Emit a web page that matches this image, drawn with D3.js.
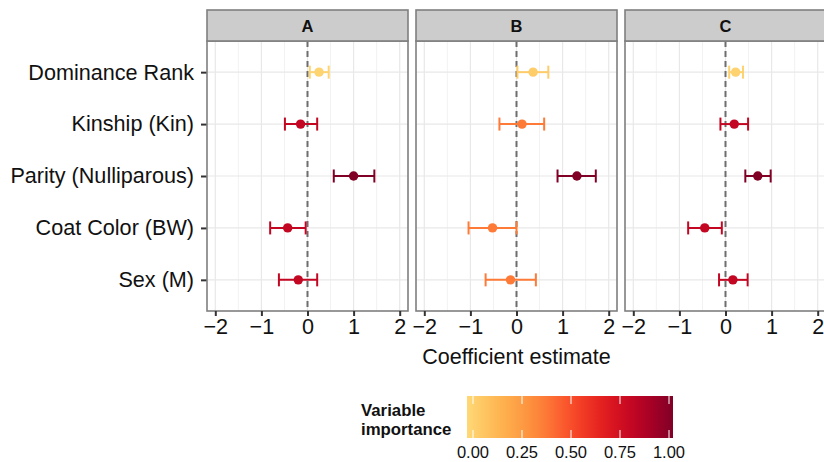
<!DOCTYPE html>
<html>
<head>
<meta charset="utf-8">
<script src="https://d3js.org/d3.v7.min.js"></script>
<style>
  body { margin: 0; background: #fff; }
  text { font-family: "Liberation Sans", Arial, Helvetica, sans-serif; }
</style>
</head>
<body>
<div id="chart"></div>
<script>
// data
var categories = ["Dominance Rank", "Kinship (Kin)", "Parity (Nulliparous)", "Coat Color (BW)", "Sex (M)"];
var panels = ["A", "B", "C"];

var estimateA = [0.25, -0.15, 1.00, -0.43, -0.20];
var lowerA    = [0.05, -0.49, 0.57, -0.81, -0.62];
var upperA    = [0.46,  0.21, 1.45, -0.04,  0.21];
var importanceA = [0.02, 0.80, 1.00, 0.80, 0.80];

var estimateB = [0.36, 0.12, 1.31, -0.52, -0.13];
var lowerB    = [0.02, -0.37, 0.89, -1.04, -0.67];
var upperB    = [0.69, 0.60, 1.72, 0.00, 0.42];
var importanceB = [0.05, 0.38, 1.00, 0.38, 0.38];

var estimateC = [0.22, 0.19, 0.70, -0.45, 0.16];
var lowerC    = [0.08, -0.11, 0.43, -0.81, -0.14];
var upperC    = [0.38, 0.49, 0.98, -0.08, 0.48];
var importanceC = [0.03, 0.80, 1.00, 0.80, 0.80];

var xTicks = [-2, -1, 0, 1, 2];
var legendTicks = [0, 0.25, 0.5, 0.75, 1];

var series = {
  A: {est: estimateA, lo: lowerA, hi: upperA, imp: importanceA},
  B: {est: estimateB, lo: lowerB, hi: upperB, imp: importanceB},
  C: {est: estimateC, lo: lowerC, hi: upperC, imp: importanceC}
};

var svgWidth = 824, svgHeight = 462;
var panelW = 201, panelStep = 209, panelLeft = 207;
var stripTop = 10, panelTop = 41, panelBottom = 311;
var axisFont = 21.6;

var svg = d3.select("#chart").append("svg")
  .attr("width", svgWidth)
  .attr("height", svgHeight);

var color = d3.scaleSequential(d3.interpolateRgbBasis(
  ["#FED976", "#FEB24C", "#FD8D3C", "#FC4E2A", "#E31A1C", "#BD0026", "#800026"]))
  .domain([0, 1]);

var y = d3.scalePoint()
  .domain(categories)
  .range([panelTop, panelBottom])
  .padding(0.6);

var x = d3.scaleLinear()
  .domain([-2.18, 2.18])
  .range([0, panelW]);

// y axis labels (left of first panel)
var yAxis = svg.append("g")
  .attr("transform", "translate(" + panelLeft + ",0)")
  .call(d3.axisLeft(y).tickSize(6).tickPadding(7));
yAxis.select(".domain").remove();
yAxis.selectAll("line").attr("stroke", "#333").attr("stroke-width", 2);
yAxis.selectAll("text").attr("font-size", axisFont).attr("fill", "#111")
  .style("font-family", "Liberation Sans, Arial, sans-serif");

panels.forEach(function(p, i) {
  var g = svg.append("g")
    .attr("transform", "translate(" + (panelLeft + i * panelStep) + ",0)");
  var s = series[p];

  // minor grid
  var minor = [-1.5, -0.5, 0.5, 1.5];
  g.selectAll(".minor").data(minor).enter().append("line")
    .attr("x1", function(d) { return x(d); }).attr("x2", function(d) { return x(d); })
    .attr("y1", panelTop).attr("y2", panelBottom)
    .attr("stroke", "#f2f2f2").attr("stroke-width", 1);
  // major grid
  g.selectAll(".vmaj").data(xTicks).enter().append("line")
    .attr("x1", function(d) { return x(d); }).attr("x2", function(d) { return x(d); })
    .attr("y1", panelTop).attr("y2", panelBottom)
    .attr("stroke", "#e8e8e8").attr("stroke-width", 1.2);
  g.selectAll(".hmaj").data(categories).enter().append("line")
    .attr("x1", 0).attr("x2", panelW)
    .attr("y1", function(d) { return y(d); }).attr("y2", function(d) { return y(d); })
    .attr("stroke", "#e8e8e8").attr("stroke-width", 1.2);

  // zero line
  g.append("line")
    .attr("x1", x(0)).attr("x2", x(0))
    .attr("y1", panelTop).attr("y2", panelBottom)
    .attr("stroke", "#6e6e6e").attr("stroke-width", 2)
    .attr("stroke-dasharray", "6,4");

  // error bars
  var rows = categories.map(function(c, k) {
    return {cat: c, est: s.est[k], lo: s.lo[k], hi: s.hi[k], imp: s.imp[k]};
  });
  var eb = g.selectAll(".eb").data(rows).enter().append("g");
  eb.append("line")
    .attr("x1", function(d) { return x(d.lo); }).attr("x2", function(d) { return x(d.hi); })
    .attr("y1", function(d) { return y(d.cat); }).attr("y2", function(d) { return y(d.cat); })
    .attr("stroke", function(d) { return color(d.imp); }).attr("stroke-width", 2);
  ["lo", "hi"].forEach(function(k) {
    eb.append("line")
      .attr("x1", function(d) { return x(d[k]); }).attr("x2", function(d) { return x(d[k]); })
      .attr("y1", function(d) { return y(d.cat) - 6.5; }).attr("y2", function(d) { return y(d.cat) + 6.5; })
      .attr("stroke", function(d) { return color(d.imp); }).attr("stroke-width", 2);
  });
  eb.append("circle")
    .attr("cx", function(d) { return x(d.est); })
    .attr("cy", function(d) { return y(d.cat); })
    .attr("r", 4.7)
    .attr("fill", function(d) { return color(d.imp); });

  // panel border
  g.append("rect")
    .attr("x", 0).attr("y", panelTop).attr("width", panelW).attr("height", panelBottom - panelTop)
    .attr("fill", "none").attr("stroke", "#7f7f7f").attr("stroke-width", 1.6);

  // strip
  g.append("rect")
    .attr("x", 0).attr("y", stripTop).attr("width", panelW).attr("height", panelTop - stripTop)
    .attr("fill", "#cccccc").attr("stroke", "#7f7f7f").attr("stroke-width", 1.6);
  g.append("text")
    .attr("x", panelW / 2).attr("y", (stripTop + panelTop) / 2 + 6)
    .attr("text-anchor", "middle")
    .attr("font-size", 16.5).attr("font-weight", "bold").attr("fill", "#111")
    .text(p);

  // x axis
  var xa = g.append("g")
    .attr("transform", "translate(0," + panelBottom + ")")
    .call(d3.axisBottom(x).tickValues(xTicks).tickSize(5).tickPadding(3)
      .tickFormat(function(d) { return d < 0 ? "\u2212" + Math.abs(d) : d; }));
  xa.select(".domain").remove();
  xa.selectAll("line").attr("stroke", "#333").attr("stroke-width", 2);
  xa.selectAll("text").attr("font-size", axisFont).attr("fill", "#111")
    .style("font-family", "Liberation Sans, Arial, sans-serif");
});

// x axis title
svg.append("text")
  .attr("x", panelLeft + panelStep + panelW / 2).attr("y", 364)
  .attr("text-anchor", "middle")
  .attr("font-size", 21.5).attr("fill", "#111")
  .text("Coefficient estimate");

// legend
var barX0 = 467, barX1 = 673, barY = 396, barH = 42;
var defs = svg.append("defs");
var grad = defs.append("linearGradient").attr("id", "impGrad")
  .attr("x1", "0%").attr("x2", "100%").attr("y1", "0%").attr("y2", "0%");
d3.range(0, 1.001, 0.05).forEach(function(t) {
  grad.append("stop").attr("offset", (t * 100) + "%").attr("stop-color", color(t));
});
svg.append("rect")
  .attr("x", barX0).attr("y", barY).attr("width", barX1 - barX0).attr("height", barH)
  .attr("fill", "url(#impGrad)");

var lx = d3.scaleLinear().domain([0, 1]).range([473, 669]);
svg.selectAll(".lt").data(legendTicks).enter().append("line")
  .attr("x1", function(d) { return lx(d); }).attr("x2", function(d) { return lx(d); })
  .attr("y1", barY).attr("y2", barY + 8)
  .attr("stroke", "#fff").attr("stroke-width", 1);
svg.selectAll(".lb").data(legendTicks).enter().append("line")
  .attr("x1", function(d) { return lx(d); }).attr("x2", function(d) { return lx(d); })
  .attr("y1", barY + barH - 8).attr("y2", barY + barH)
  .attr("stroke", "#fff").attr("stroke-width", 1);
svg.selectAll(".ll").data(legendTicks).enter().append("text")
  .attr("x", function(d) { return lx(d); }).attr("y", 458)
  .attr("text-anchor", "middle")
  .attr("font-size", 16.5).attr("fill", "#111")
  .text(function(d) { return d3.format(".2f")(d); });

svg.append("text")
  .attr("x", 361).attr("y", 416)
  .attr("font-size", 16.8).attr("font-weight", "bold").attr("fill", "#111")
  .text("Variable");
svg.append("text")
  .attr("x", 361).attr("y", 435)
  .attr("font-size", 16.8).attr("font-weight", "bold").attr("fill", "#111")
  .text("importance");
</script>
</body>
</html>
